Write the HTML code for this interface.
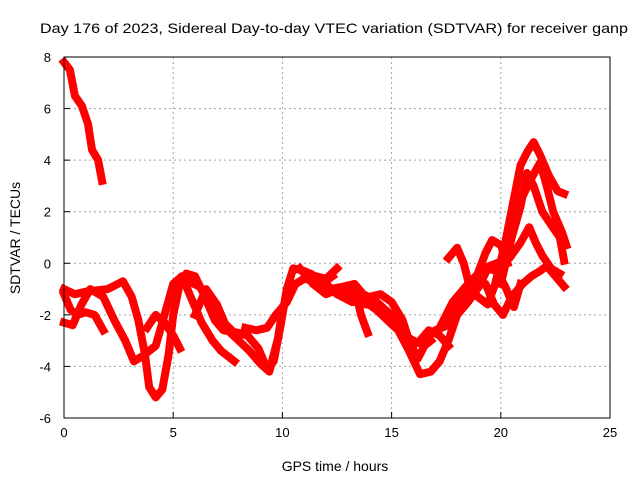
<!DOCTYPE html>
<html><head><meta charset="utf-8"><style>
html,body{margin:0;padding:0;background:#fff;width:640px;height:480px;overflow:hidden}
text{font-family:"Liberation Sans",sans-serif;fill:#000}
</style></head><body>
<svg id="chart" width="640" height="480" viewBox="0 0 640 480" xmlns="http://www.w3.org/2000/svg">
<rect width="640" height="480" fill="#fff"/>
<g id="grid"></g>
<g id="series"></g>
<rect x="64" y="57" width="546" height="361" fill="none" stroke="#000" stroke-width="1"/>
<g id="ticks"></g>
<text x="334" y="33" text-anchor="middle" font-size="14" textLength="588" lengthAdjust="spacingAndGlyphs">Day 176 of 2023, Sidereal Day-to-day VTEC variation (SDTVAR) for receiver ganp</text>
<text x="335" y="471" text-anchor="middle" font-size="14">GPS time / hours</text>
<text transform="translate(20,238) rotate(-90)" text-anchor="middle" font-size="14">SDTVAR / TECUs</text>
</svg>
<script>
const xTicks=[0,5,10,15,20,25];
const yTicks=[-6,-4,-2,0,2,4,6,8];
const trackA=[[0,-1.0],[0.5,-1.2],[1,-1.1],[2,-1.0],[2.7,-0.7],[3.1,-1.3],[3.4,-2.2],[3.7,-3.5],[3.9,-4.8],[4.2,-5.2],[4.5,-4.9],[4.8,-3.5],[5.0,-2.0],[5.3,-0.8],[5.6,-0.4],[6.0,-0.5],[6.4,-1.2],[6.9,-2.2],[7.3,-2.6],[8.0,-2.7]];
const trackB=[[0,-2.3],[0.4,-2.4],[0.8,-1.6],[1.2,-1.0],[1.8,-1.3],[2.3,-2.2],[2.8,-3.0],[3.2,-3.8],[3.6,-3.6],[4.2,-3.2],[4.6,-2.0],[5.0,-0.8],[5.4,-0.5],[5.9,-1.5],[6.3,-2.3],[6.8,-3.0],[7.2,-3.4],[7.8,-3.8]];
const trackC=[[0,-1.2],[0.3,-1.8],[0.6,-2.0],[1.0,-1.9],[1.4,-2.0],[1.8,-2.6]];
const trackD=[[3.8,-2.5],[4.2,-2.0],[4.6,-2.3],[5.0,-2.8],[5.3,-3.3]];
const trackE=[[5.7,-0.7],[6.2,-0.9],[6.8,-1.6],[7.2,-2.2],[7.8,-2.7],[8.4,-2.8],[8.9,-3.3],[9.3,-4.1],[9.6,-3.8],[9.9,-2.5],[10.2,-1.0],[10.5,-0.2],[11,-0.3],[11.5,-0.5],[12,-0.6],[12.5,-0.2]];
const trackF=[[6.0,-2.0],[6.5,-1.0],[7.0,-1.6],[7.5,-2.6],[8.0,-3.0],[8.5,-3.4],[9.0,-3.9],[9.4,-4.2],[9.8,-2.9],[10.0,-1.8],[10.4,-0.9],[10.8,-0.7],[11.3,-0.4],[11.8,-0.8],[12.3,-0.5]];
const trackG=[[8.3,-2.5],[8.8,-2.6],[9.3,-2.5],[9.7,-2.0],[10.2,-1.5],[10.6,-0.8],[11.2,-0.5],[11.8,-1.0],[12.4,-1.0],[13.0,-1.1],[13.5,-1.3],[14.0,-1.3],[14.5,-1.2],[15.0,-1.5],[15.5,-2.2],[15.8,-3.0],[16.2,-3.7],[16.5,-3.2],[16.8,-3.0]];
const trackH=[[11,-0.6],[12,-0.8],[12.5,-1.2],[13.2,-1.5],[13.8,-1.5],[14.3,-1.8],[14.8,-2.2],[15.3,-2.6],[15.8,-3.4],[16.3,-4.3],[16.8,-4.2],[17.2,-3.8],[17.6,-3.0],[18.0,-2.0],[18.5,-1.5],[19,-0.9],[19.4,-0.2],[19.8,-0.3],[20.2,-0.9],[20.6,-1.7],[20.9,-0.8]];
const trackI=[[12.2,-1.0],[12.8,-0.9],[13.3,-0.8],[13.7,-1.2],[14.2,-1.4],[14.7,-1.8],[15.2,-2.4],[15.6,-2.8],[16.2,-3.1],[16.7,-2.6],[17.2,-2.8],[17.6,-3.2]];
const trackJ=[[13.3,-0.9],[13.6,-2.0],[13.9,-2.7]];
const trackK=[[17.8,-1.8],[18.3,-1.2],[18.8,-0.6],[19.3,-0.8],[19.7,-1.6],[20.1,-2.0],[20.5,-1.3],[21,-0.8],[21.4,-0.5],[21.8,-0.3],[22.1,-0.1],[22.5,-0.5],[22.9,-0.9]];
const trackL=[[17.2,-2.5],[17.8,-1.5],[18.5,-0.8],[19.2,-0.2],[19.8,0.0],[20.4,0.2],[20.9,0.8],[21.3,1.4],[21.6,0.8],[21.9,0.3],[22.3,-0.2],[22.7,-0.4]];
const trackM=[[19.8,-0.6],[20.2,0.8],[20.6,2.5],[20.9,3.8],[21.2,4.3],[21.5,4.7],[21.8,4.2],[22.2,3.4],[22.6,2.8],[22.9,2.7]];
const trackN=[[20.2,0],[20.6,1.5],[21.0,2.6],[21.4,3.3],[21.8,3.9],[22.1,3.0],[22.4,2.0],[22.8,1.2],[23.0,0.7]];
const trackO=[[20.0,-0.8],[20.5,1.0],[20.9,2.2],[21.2,3.5],[21.5,3.0],[21.9,2.0],[22.3,1.5],[22.7,1.0],[22.9,0.1]];
const trackP=[[17.6,0.2],[18.0,0.6],[18.3,0.0],[18.6,-1.0],[18.9,-0.5],[19.3,0.4],[19.6,0.9],[20.0,0.7],[20.3,0.0]];
const trackT=[[0,7.8],[0.27,7.5],[0.5,6.5],[0.82,6.1],[1.1,5.4],[1.28,4.4],[1.56,4.0],[1.74,3.2]];
const trackQ=[[10.8,-0.2],[11.4,-0.8],[12.0,-1.2],[12.6,-1.0],[13.2,-1.0],[13.8,-1.6],[14.4,-1.6],[15.0,-2.0],[15.6,-2.6],[16.0,-3.6]];
const trackR=[[16.4,-3.0],[17.0,-2.6],[17.6,-2.4],[18.2,-1.4],[18.8,-1.2],[19.4,-1.6],[20.0,-0.2],[20.4,0.6]];
const tracks=[trackT,trackA,trackB,trackC,trackD,trackE,trackF,trackG,trackH,trackI,trackJ,trackK,trackL,trackM,trackN,trackO,trackP,trackQ,trackR];
const NS="http://www.w3.org/2000/svg";
const X0=64,X1=610,Y0=418,Y1=57;
function xs(v){return X0+(v-0)/(25-0)*(X1-X0);}
function ys(v){return Y0-(v+6)/(8+6)*(Y0-Y1);}
function mk(t,a,p){const e=document.createElementNS(NS,t);for(const k in a)e.setAttribute(k,a[k]);p.appendChild(e);return e;}
const grid=document.getElementById('grid'),tk=document.getElementById('ticks'),ser=document.getElementById('series');
xTicks.forEach(v=>{const x=xs(v);
 if(v>0&&v<25){const g=mk('line',{x1:x,y1:Y1,x2:x,y2:Y0,stroke:'#a0a0a0','stroke-dasharray':'2,3'},grid);
 
 }
 const l=mk('line',{x1:x,y1:Y0,x2:x,y2:Y0-6,stroke:'#000'},tk);
 
 
 const t=mk('text',{x:x,y:Y0+19,'text-anchor':'middle','font-size':'13'},tk);t.textContent=v;
 
 
});
yTicks.forEach(v=>{const y=ys(v);
 if(v>-6&&v<8){const g=mk('line',{x1:X0,y1:y,x2:X1,y2:y,stroke:'#a0a0a0','stroke-dasharray':'2,3'},grid);
 
 }
 const l=mk('line',{x1:X0,y1:y,x2:X0+6,y2:y,stroke:'#000'},tk);
 
 
 const t=mk('text',{x:X0-13,y:y+5,'text-anchor':'end','font-size':'13'},tk);t.textContent=v;
 
 
});
tracks.forEach((tr,i)=>{
 const pts=tr.map(p=>xs(p[0]).toFixed(1)+','+ys(p[1]).toFixed(1)).join(' ');
 const pl=mk('polyline',{points:pts,fill:'none',stroke:'#ff0000','stroke-width':'8','stroke-linejoin':'round','stroke-linecap':'square'},ser);
 
 
});
</script>
</body></html>
